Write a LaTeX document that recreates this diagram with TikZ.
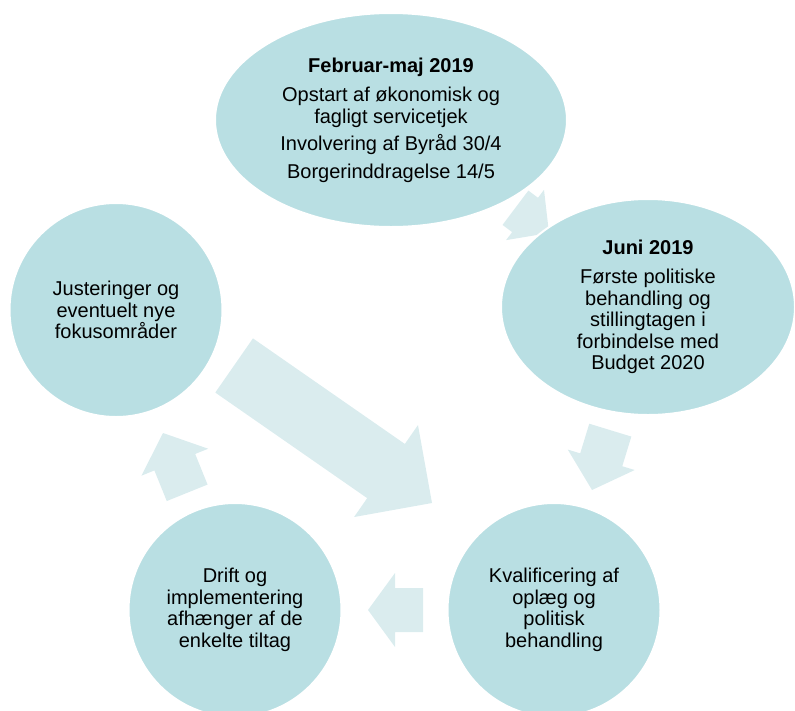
\documentclass[tikz,border=0pt]{standalone}
\usepackage{fontspec}
\setmainfont{Liberation Sans}
\usepackage{tikz}
\usetikzlibrary{shapes.geometric}
\definecolor{phasefill}{RGB}{185,223,227}
\definecolor{arrowfill}{RGB}{218,236,238}
%% tip x, tip y, angle, shaft length, shaft half width, head length, head half width
\newcommand{\BlockArrow}[7]{%
  \fill[arrowfill, shift={(#1,#2)}, rotate=#3]
    (0,0) -- (-#6,#7) -- (-#6,#5) -- (-#6-#4,#5) -- (-#6-#4,-#5) -- (-#6,-#5) -- (-#6,-#7) -- cycle;}

\begin{document}
\begin{tikzpicture}[x=1pt, y=-1pt,
  phase/.style={ellipse, fill=phasefill, draw=white, line width=2pt, inner sep=-40pt,
    align=center, font=\fontsize{20}{21.5}\selectfont}]

  \useasboundingbox (0,0) rectangle (795,710);

  %% arrows behind the phases
  \BlockArrow{549}{233}{-37}{12}{21.5}{30}{31.5}  %% feb -> jun
  \BlockArrow{592}{490}{253}{31}{22}{31.6}{35}    %% jun -> kval
  \BlockArrow{368}{610}{180}{28}{22}{27}{37}      %% kval -> drift
  \BlockArrow{163}{433}{112}{33}{22}{31.5}{36}    %% drift -> just
  \BlockArrow{432}{503}{-34.8}{185}{33}{56}{56}   %% just -> kval

  %% phases
  \node[phase, minimum width=352, minimum height=214] (feb) at (391,120)
    {\textbf{Februar-maj 2019}\\[8pt]
     Opstart af økonomisk og\\ fagligt servicetjek\\[6pt]
     Involvering af Byråd 30/4\\[6pt]
     Borgerinddragelse 14/5};
  \node[phase, minimum width=294, minimum height=216] (jun) at (648,307)
    {\textbf{Juni 2019}\\[8pt]
     Første politiske\\ behandling og\\ stillingtagen i\\ forbindelse med\\ Budget 2020};
  \node[phase, minimum width=213, minimum height=214] (kval) at (554,610)
    {Kvalificering af\\ oplæg og\\ politisk\\ behandling};
  \node[phase, minimum width=213, minimum height=214] (drift) at (235,610)
    {Drift og\\ implementering\\ afhænger af de\\ enkelte tiltag};
  \node[phase, minimum width=213, minimum height=214] (just) at (116,310)
    {Justeringer og\\ eventuelt nye\\ fokusområder};
\end{tikzpicture}
\end{document}
